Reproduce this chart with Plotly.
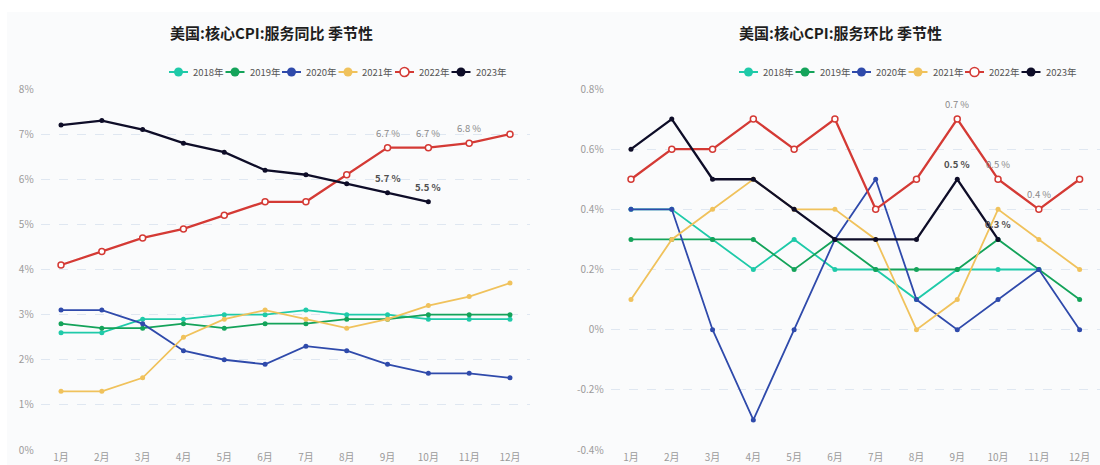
import plotly.graph_objects as go

# ---------------- data ----------------
months = ["1月", "2月", "3月", "4月", "5月", "6月", "7月", "8月", "9月", "10月", "11月", "12月"]
years = ["2018年", "2019年", "2020年", "2021年", "2022年", "2023年"]

# 同比 (YoY, %)
yoy_2018 = [2.6, 2.6, 2.9, 2.9, 3.0, 3.0, 3.1, 3.0, 3.0, 2.9, 2.9, 2.9]
yoy_2019 = [2.8, 2.7, 2.7, 2.8, 2.7, 2.8, 2.8, 2.9, 2.9, 3.0, 3.0, 3.0]
yoy_2020 = [3.1, 3.1, 2.8, 2.2, 2.0, 1.9, 2.3, 2.2, 1.9, 1.7, 1.7, 1.6]
yoy_2021 = [1.3, 1.3, 1.6, 2.5, 2.9, 3.1, 2.9, 2.7, 2.9, 3.2, 3.4, 3.7]
yoy_2022 = [4.1, 4.4, 4.7, 4.9, 5.2, 5.5, 5.5, 6.1, 6.7, 6.7, 6.8, 7.0]
yoy_2023 = [7.2, 7.3, 7.1, 6.8, 6.6, 6.2, 6.1, 5.9, 5.7, 5.5, None, None]

# 环比 (MoM, %)
mom_2018 = [0.4, 0.4, 0.3, 0.2, 0.3, 0.2, 0.2, 0.1, 0.2, 0.2, 0.2, None]
mom_2019 = [0.3, 0.3, 0.3, 0.3, 0.2, 0.3, 0.2, 0.2, 0.2, 0.3, 0.2, 0.1]
mom_2020 = [0.4, 0.4, 0.0, -0.3, 0.0, 0.3, 0.5, 0.1, 0.0, 0.1, 0.2, 0.0]
mom_2021 = [0.1, 0.3, 0.4, 0.5, 0.4, 0.4, 0.3, 0.0, 0.1, 0.4, 0.3, 0.2]
mom_2022 = [0.5, 0.6, 0.6, 0.7, 0.6, 0.7, 0.4, 0.5, 0.7, 0.5, 0.4, 0.5]
mom_2023 = [0.6, 0.7, 0.5, 0.5, 0.4, 0.3, 0.3, 0.3, 0.5, 0.3, None, None]

# months that carry data labels
labelled_2022 = ["9月", "10月", "11月"]
labelled_2023 = ["9月", "10月"]

yoy_tickvals = [0, 1, 2, 3, 4, 5, 6, 7, 8]
yoy_ticktext = ["0%", "1%", "2%", "3%", "4%", "5%", "6%", "7%", "8%"]
mom_tickvals = [-0.4, -0.2, 0.0, 0.2, 0.4, 0.6, 0.8]
mom_ticktext = ["-0.4%", "-0.2%", "0%", "0.2%", "0.4%", "0.6%", "0.8%"]

titles = ["美国:核心CPI:服务同比 季节性", "美国:核心CPI:服务环比 季节性"]

# ---------------- style ----------------
W, H = 1100, 465
FONT = "Noto Sans CJK SC, Noto Sans, sans-serif"
colors = ["#1fcaa9", "#14a35a", "#2f4aab", "#f0c25c", "#d43a35", "#0e0d28"]
widths = [1.8, 1.8, 1.8, 1.8, 2.3, 2.3]
PLOT_BG = "#f2f7fd"
GRID = "#dfe7f1"


def px(x):
    return x / W


def py(y):
    return 1 - y / H


fig = go.Figure()

series = {
    "x": [yoy_2018, yoy_2019, yoy_2020, yoy_2021, yoy_2022, yoy_2023],
    "x2": [mom_2018, mom_2019, mom_2020, mom_2021, mom_2022, mom_2023],
}

for xa, ya, data in [("x", "y", series["x"]), ("x2", "y2", series["x2"])]:
    for i, (yr, vals) in enumerate(zip(years, data)):
        hollow = yr == "2022年"
        fig.add_trace(go.Scatter(
            x=months, y=vals, name=yr, mode="lines+markers",
            xaxis=xa, yaxis=ya, showlegend=False,
            line=dict(color=colors[i], width=widths[i]),
            marker=dict(
                size=6 if hollow else 5,
                color="white" if hollow else colors[i],
                line=dict(color=colors[i], width=1.5 if hollow else 0),
            ),
            connectgaps=False,
        ))

# data labels
def add_labels(xa, ya, vals, labelled, bold):
    for m in labelled:
        v = vals[months.index(m)]
        txt = f"{v:.1f} %"
        fig.add_annotation(
            x=m, y=v, xref=xa, yref=ya, showarrow=False,
            text=f"<b>{txt}</b>" if bold else txt, yshift=15,
            font=dict(family=FONT, size=9.5, color="#505050" if bold else "#8a8a8a"),
        )

add_labels("x", "y", yoy_2022, labelled_2022, False)
add_labels("x", "y", yoy_2023, labelled_2023, True)
add_labels("x2", "y2", mom_2022, labelled_2022, False)
add_labels("x2", "y2", mom_2023, labelled_2023, True)

# background card
shapes = [dict(type="rect", xref="paper", yref="paper", x0=px(7), x1=1, y0=0, y1=py(12),
               fillcolor="#fafbfc", line=dict(width=0), layer="below")]

# titles
for cx, t in zip([271, 840], titles):
    fig.add_annotation(x=px(cx), y=py(33), xref="paper", yref="paper", showarrow=False,
                       text=f"<b>{t}</b>", xanchor="center", yanchor="middle",
                       font=dict(family=FONT, size=15, color="#1e1e1e"))

# custom legends
for start in [169, 739]:
    for i, yr in enumerate(years):
        sx = start + i * 56.5
        ly = py(72)
        shapes.append(dict(type="line", xref="paper", yref="paper",
                           x0=px(sx), x1=px(sx + 19), y0=ly, y1=ly,
                           line=dict(color=colors[i], width=2)))
        hollow = yr == "2022年"
        shapes.append(dict(type="circle", xref="paper", yref="paper",
                           xsizemode="pixel", ysizemode="pixel",
                           xanchor=px(sx + 9.5), yanchor=ly,
                           x0=-4.5, x1=4.5, y0=-4.5, y1=4.5,
                           fillcolor="white" if hollow else colors[i],
                           line=dict(color=colors[i], width=1.6 if hollow else 0)))
        fig.add_annotation(x=px(sx + 22), y=ly, xref="paper", yref="paper", showarrow=False,
                           text=yr, xanchor="left", yanchor="middle",
                           font=dict(family=FONT, size=9.5, color="#555555"))

axis_common = dict(showline=False, zeroline=False, ticks="", automargin=False,
                   tickfont=dict(family=FONT, size=10, color="#9a9a9a"))
xaxis_common = dict(axis_common, type="category", range=[-0.5, 11.5], showgrid=False,
                    categoryorder="array", categoryarray=months)
yaxis_common = dict(axis_common, showgrid=True, gridcolor=GRID, griddash="dash", gridwidth=1,
                    ticklabelstandoff=6)

ydom = [15 / H, 376 / H]
fig.update_layout(
    width=W, height=H,
    margin=dict(l=0, r=0, t=0, b=0),
    paper_bgcolor="white",
    plot_bgcolor=PLOT_BG,
    showlegend=False,
    shapes=shapes,
    font=dict(family=FONT),
    xaxis=dict(xaxis_common, domain=[px(40.6), px(530.4)], anchor="y"),
    yaxis=dict(yaxis_common, domain=ydom, range=[0, 8], anchor="x",
               tickvals=yoy_tickvals, ticktext=yoy_ticktext),
    xaxis2=dict(xaxis_common, domain=[px(610.6), 1.0], anchor="y2"),
    yaxis2=dict(yaxis_common, domain=ydom, range=[-0.4, 0.8], anchor="x2",
                tickvals=mom_tickvals, ticktext=mom_ticktext),
)

fig.write_html(
    "out.html",
    config={"displayModeBar": False},
    post_script="document.body.style.margin='0px';document.body.style.overflow='hidden';",
)
